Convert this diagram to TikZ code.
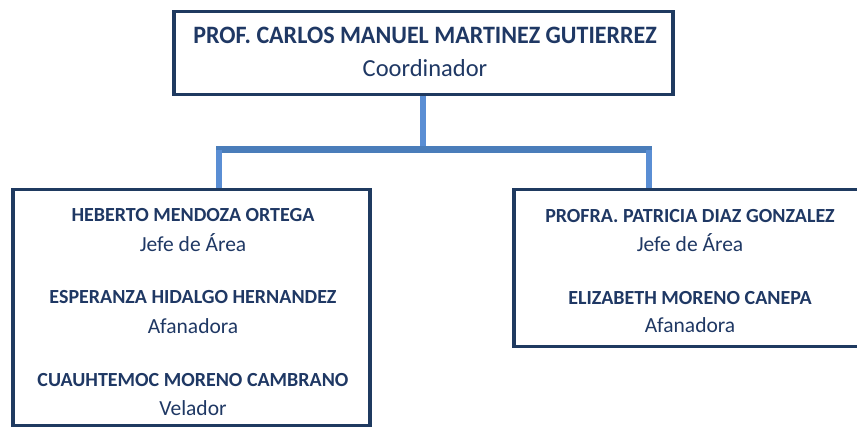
\documentclass[tikz,border=0pt]{standalone}
\usepackage{fontspec}
\setmainfont{Carlito}
\newfontfamily\titlefont[FakeStretch=0.96]{Carlito}
\definecolor{navy}{HTML}{1F3A60}
\definecolor{textnavy}{HTML}{1F3864}
\definecolor{linkA}{HTML}{5A8ED4}
\definecolor{linkB}{HTML}{4A7DBA}
\begin{document}
\begin{tikzpicture}[x=1pt,y=-1pt,
  orgbox/.style={draw=navy,line width=3.5pt,rectangle,inner sep=0pt,anchor=north west},
  orglink/.style={line width=6pt,draw=linkA},
  orghlink/.style={line width=7pt,draw=linkB},
  pname/.style={text=textnavy,font=\bfseries\fontsize{20}{24}\selectfont,inner sep=0pt},
  prole/.style={text=textnavy,font=\fontsize{21.5}{24}\selectfont,inner sep=0pt},
  tname/.style={text=textnavy,font=\titlefont\bfseries\fontsize{25}{28}\selectfont,inner sep=0pt},
  trole/.style={text=textnavy,font=\fontsize{24.5}{28}\selectfont,inner sep=0pt}]
\useasboundingbox (0,0) rectangle (857,427);
\fill[white] (0,0) rectangle (857,427);
% boxes
\node[orgbox,minimum width=499pt,minimum height=83pt] (coord) at (172,10) {};
\node[orgbox,minimum width=357pt,minimum height=236pt] (left) at (11,188) {};
\node[orgbox,minimum width=360pt,minimum height=157pt] (right) at (512,188) {};
% connectors
\coordinate (jl) at (219,150);
\coordinate (jr) at (649,150);
\coordinate (jc) at (coord.south |- jl);
\draw[orglink] (coord.south) -- (jc);
\draw[orghlink] ([xshift=-3pt]jl) -- ([xshift=3pt]jr);
\draw[orglink] (jl) -- (jl |- left.north);
\draw[orglink] (jr) -- (jr |- right.north);
% top texts
\node[tname] (t1) at (425,35) {PROF. CARLOS MANUEL MARTINEZ GUTIERREZ};
\node[trole] (t2) at (425,68) {Coordinador};
% left texts
\node[pname] (l1) at (193,215) {HEBERTO MENDOZA ORTEGA};
\node[prole] (l2) at (193,243) {Jefe de Área};
\node[pname] (l3) at (193,297) {ESPERANZA HIDALGO HERNANDEZ};
\node[prole] (l4) at (193,326) {Afanadora};
\node[pname] (l5) at (193,380) {CUAUHTEMOC MORENO CAMBRANO};
\node[prole] (l6) at (193,408) {Velador};
% right texts
\node[pname] (r1) at (690,216) {PROFRA. PATRICIA DIAZ GONZALEZ};
\node[prole] (r2) at (690,243) {Jefe de Área};
\node[pname] (r3) at (690,298) {ELIZABETH MORENO CANEPA};
\node[prole] (r4) at (690,325) {Afanadora};
\end{tikzpicture}
\end{document}
